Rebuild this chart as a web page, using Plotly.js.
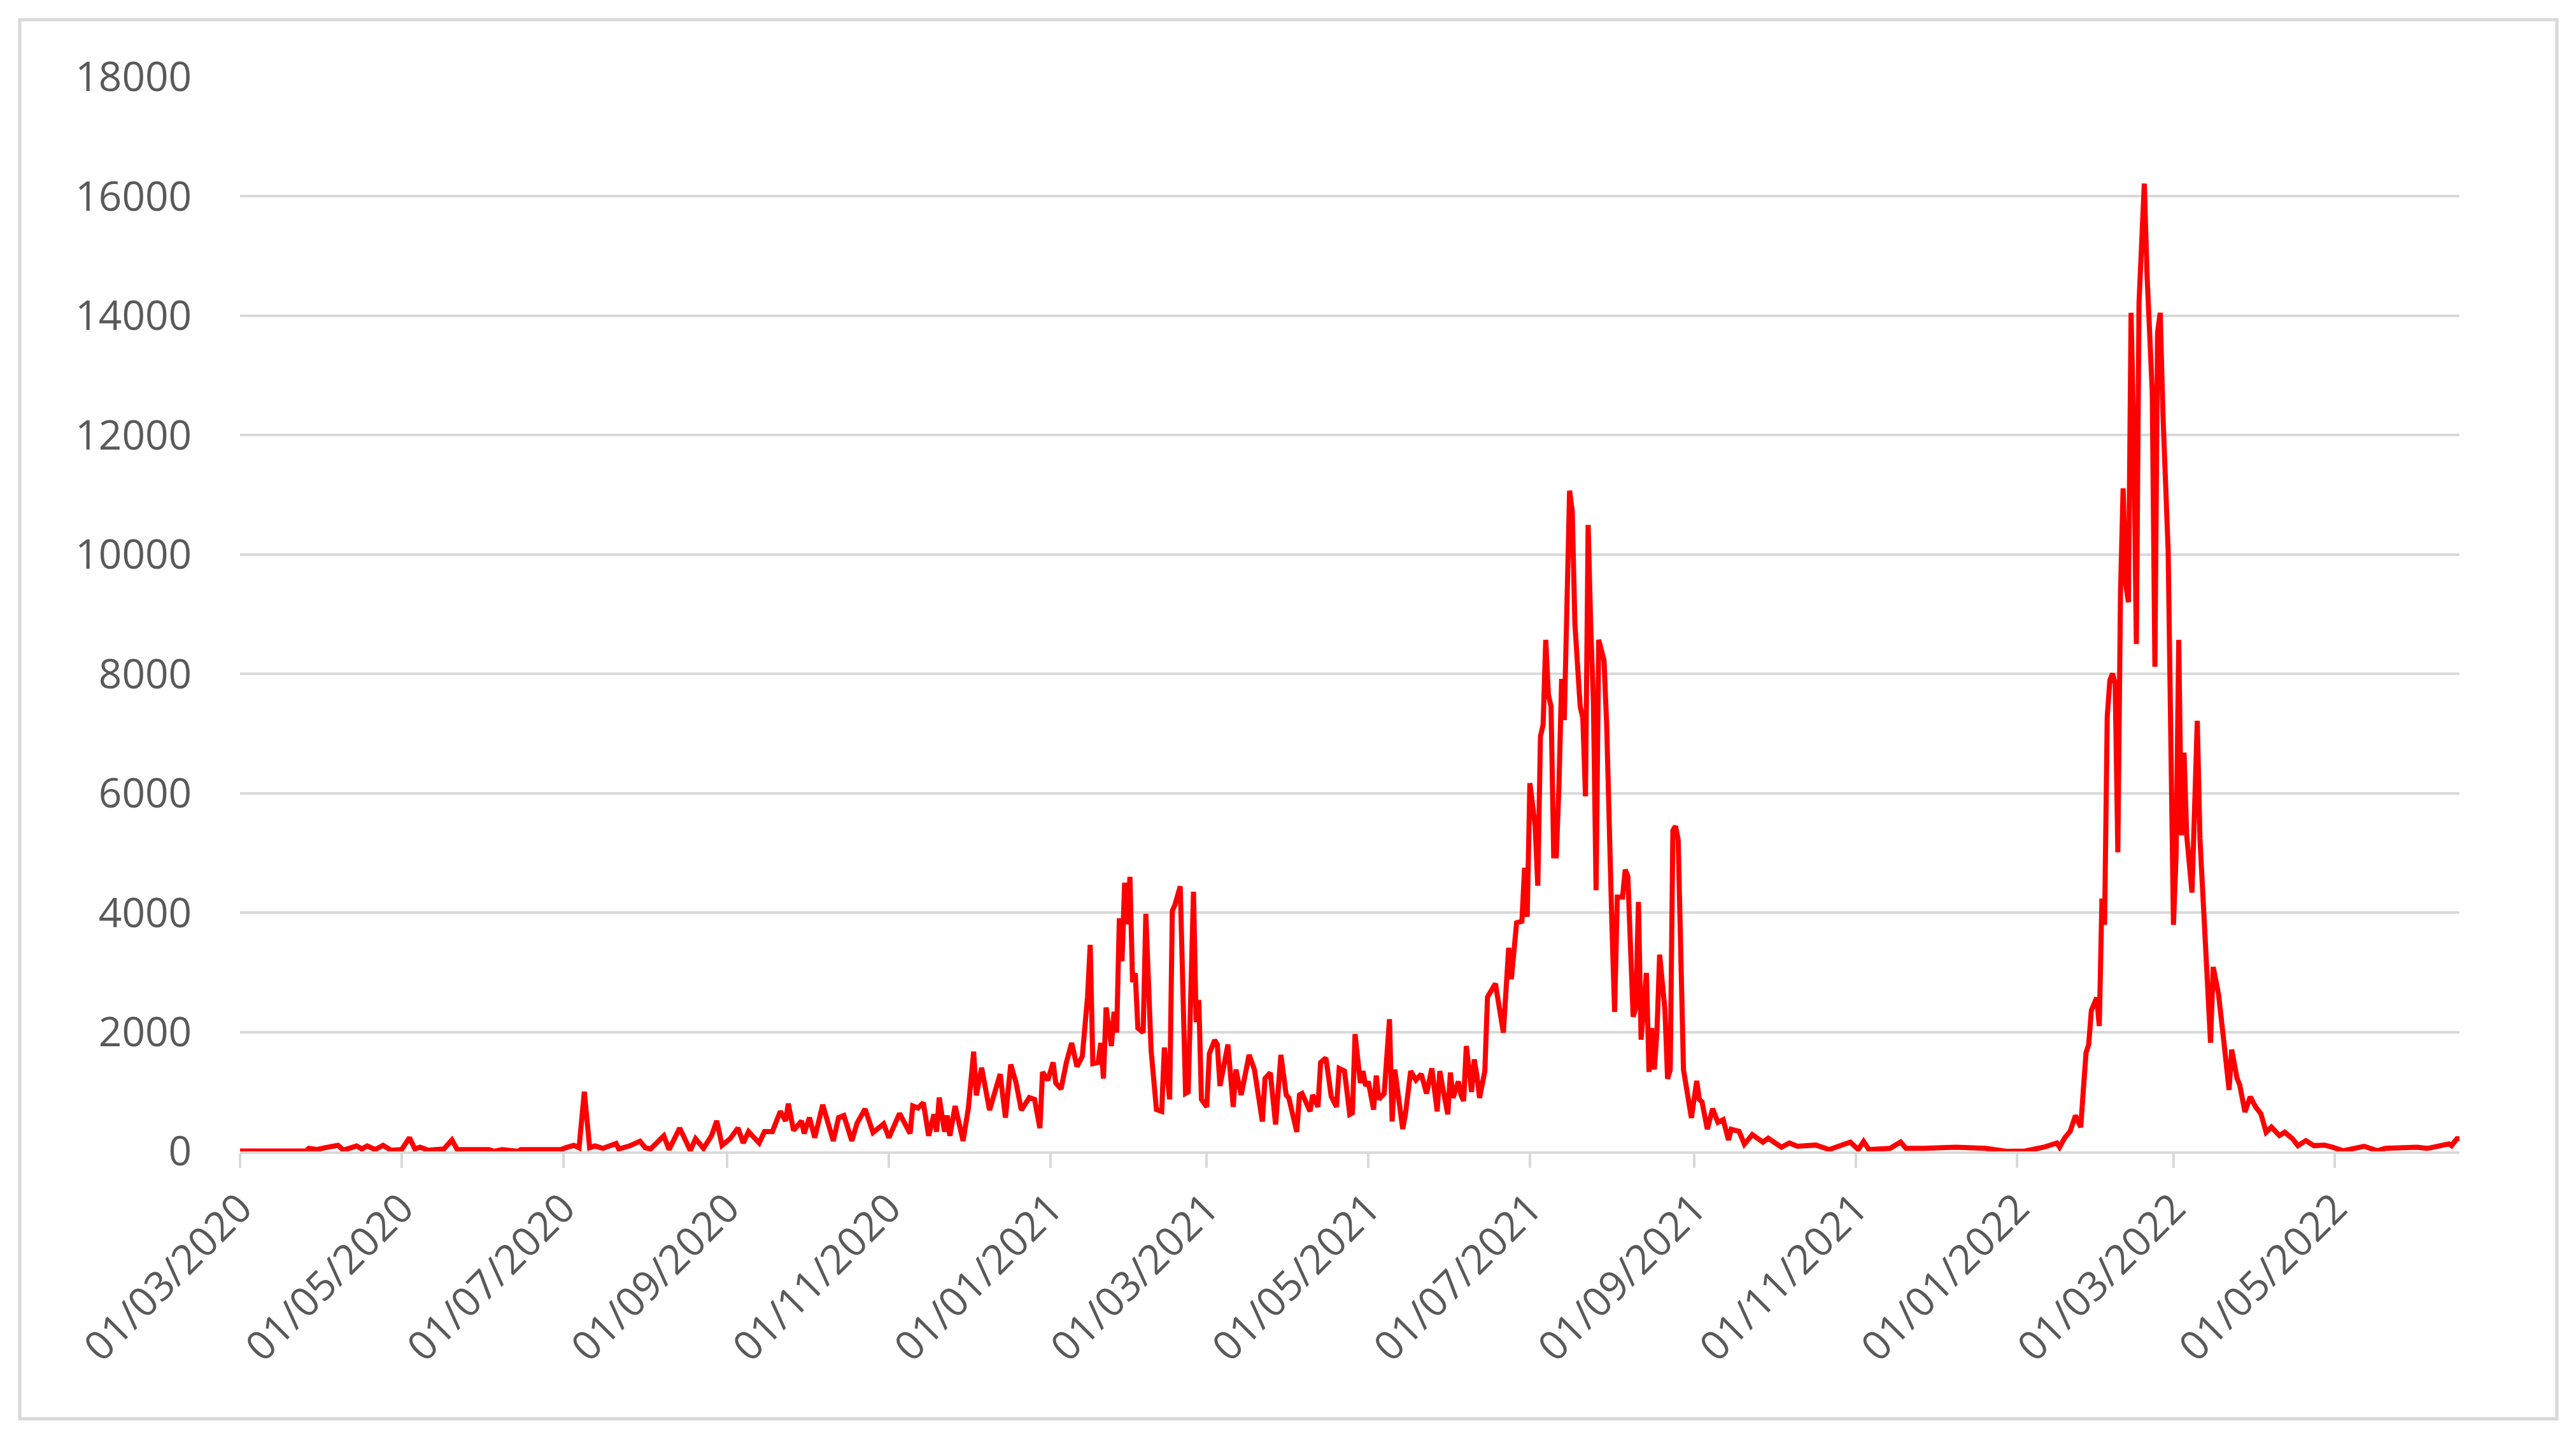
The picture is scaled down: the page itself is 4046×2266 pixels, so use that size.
<!DOCTYPE html>
<html>
<head>
<meta charset="utf-8">
<script src="https://cdn.plot.ly/plotly-3.0.1.min.js"></script>
<style>
  html, body { margin: 0; padding: 0; background: #ffffff; }
  #chart { width: 4046px; height: 2266px; }
</style>
</head>
<body>
<div id="chart"></div>
<script>
// Day offsets are counted from 01/03/2020; values are daily counts.
const startDate = '2020-03-01';

const spring2020Days  = [0,25,26,29,32,37,39,44,46,48,51,54,57,61,64,66,68,71,74,77,80,82,94,96,99,103,105,106,121,123,126,128,130,132,134,137,142,143,147,151,153,155];
const spring2020Cases = [5,8,50,30,60,100,20,90,40,90,30,100,20,30,230,40,70,20,30,40,190,30,30,0,30,20,0,30,30,60,100,60,1000,60,90,50,130,40,90,170,60,40];

const autumn2020Days  = [160,162,166,170,172,175,178,180,182,185,188,190,192,196,198,201,204,206,207,209,212,213,215,217,220,224,226,228,231,233,236,239,243,245,249,253,254,256,258,260,262,263,264,266,267,268,270,273,275,277,278,280,283,287,289,291,293,295,298,300,302,303,305];
const autumn2020Cases = [260,30,390,15,210,50,260,510,100,210,390,140,330,140,330,330,670,510,800,350,510,300,565,230,780,175,565,600,175,475,710,315,460,230,635,300,760,725,815,260,620,330,900,330,600,260,760,175,725,1670,940,1400,690,1295,565,1455,1150,690,900,870,390,1330,1190];

const winter2021Days  = [307,308,310,312,314,316,318,320,321,322,324,325,326,327,329,330,331,332,333,334,335,336,337,338,339,341,342,344,346,348,349,351,352,353,355,357,358,360,361,362,363,365,366,368,369,370,373,375,376,378,381,383,386,387,389];
const winter2021Cases = [1490,1145,1045,1490,1815,1420,1590,2590,3460,1470,1490,1815,1220,2410,1765,2340,1990,3905,3185,4500,3805,4600,2835,2985,2065,1990,3980,1690,700,670,1740,870,4030,4130,4440,970,995,4350,2165,2535,870,745,1640,1865,1790,1095,1790,745,1370,945,1615,1370,500,1220,1320];

const spring2021Days  = [391,393,395,396,399,400,401,404,405,407,408,410,412,414,415,417,418,419,420,421,423,424,425,426,428,429,430,432,434,435,436,439,440,442,444,446,448,450,452,453,454,456,457,458,460,461,462,463,465,466,467,468,470,471,474,476,477,479,480,482,484,485,486,487];
const spring2021Cases = [450,1615,945,895,325,945,970,670,945,745,1490,1565,920,745,1390,1345,995,620,645,1965,1145,1345,1095,1170,700,1270,870,970,2215,500,1370,375,620,1345,1195,1295,970,1390,670,1345,1095,620,1320,895,1170,945,845,1765,995,1540,1270,895,1345,2585,2810,2165,1990,3410,2885,3830,3855,4750,3930,6170];

const summer2021Days  = [489,490,491,492,493,494,495,496,497,498,499,500,501,502,503,504,506,507,508,509,510,511,512,513,515,516,518,519,520,522,523,524,526,527,528,529,531,532,533,534,535,536,538,539,540,541,542,543,545,547,548,550,551,552,554,556,558];
const summer2021Cases = [5450,4450,6955,7145,8570,7645,7455,4950,4950,6145,7915,7225,9530,11070,10725,8840,7455,7260,5950,10495,8760,7530,4375,8570,8225,7145,3760,2335,4260,4260,4720,4605,2255,2410,4180,1870,2990,1330,2065,1370,2025,3295,2370,1215,1370,5375,5450,5220,1370,870,560,1180,870,830,370,715,485];

const autumn2021Days  = [560,562,563,566,568,571,575,577,582,585,588,595,600,604,608,611,613,615,623,627,629,636,648,659,667,674,678,681,686,687,689,691,693,694,695,696,697,698,699,701,702];
const autumn2021Cases = [530,190,370,335,120,280,155,220,70,140,85,105,30,85,155,30,165,30,50,155,50,50,70,50,0,5,30,70,140,70,230,335,600,475,405,1045,1650,1790,2360,2575,2100];

const winter2022Days  = [703,704,705,706,707,708,709,710,711,712,713,714,715,716,717,718,719,720,722,723,724,725,726,728,730];
const winter2022Cases = [4235,3795,7285,7895,8005,7840,5010,9340,11110,9500,9200,14050,12000,8500,14220,15160,16215,14720,12720,8120,13720,14050,12390,10060,3795];

const spring2022Days  = [731,732,733,734,735,737,739,740,742,744,745,747,749,751,752,754,755,757,759,761,763,765,767,770,772,775,777,780,783,787,790,794,802,807,810,822,826,834,835,837,838];
const spring2022Cases = [4960,8570,5295,6680,5295,4335,7215,5240,3540,1820,3090,2640,1850,1030,1705,1225,1115,660,915,745,630,320,405,265,320,210,95,180,95,105,70,10,85,10,50,70,50,125,95,210,210];

const tickDates  = ['2020-03-01','2020-05-01','2020-07-01','2020-09-01','2020-11-01','2021-01-01','2021-03-01','2021-05-01','2021-07-01','2021-09-01','2021-11-01','2022-01-01','2022-03-01','2022-05-01'];
const tickLabels = ['01/03/2020','01/05/2020','01/07/2020','01/09/2020','01/11/2020','01/01/2021','01/03/2021','01/05/2021','01/07/2021','01/09/2021','01/11/2021','01/01/2022','01/03/2022','01/05/2022'];
const endDate = '2022-06-17';

// ---- build the series ----
const allDays = [].concat(spring2020Days, autumn2020Days, winter2021Days, spring2021Days,
                          summer2021Days, autumn2021Days, winter2022Days, spring2022Days);
const allCases = [].concat(spring2020Cases, autumn2020Cases, winter2021Cases, spring2021Cases,
                           summer2021Cases, autumn2021Cases, winter2022Cases, spring2022Cases);
const t0 = Date.parse(startDate + 'T00:00:00Z');
const xDates = allDays.map(d => new Date(t0 + d * 86400000).toISOString().slice(0, 10));

// ---- geometry ----
const W = 4046, H = 2266;
const M = { l: 377, r: 183, t: 121, b: 458 };
const plotW = W - M.l - M.r, plotH = H - M.t - M.b;
const px = x => (x - M.l) / plotW;
const py = y => (H - M.b - y) / plotH;

const tickFont = { family: 'Open Sans, Lato, sans-serif', size: 64, color: '#595959' };

const trace = {
  type: 'scatter',
  mode: 'lines',
  x: xDates,
  y: allCases,
  line: { color: '#FF0000', width: 8 },
  hoverinfo: 'x+y',
  showlegend: false
};

const layout = {
  width: W, height: H,
  margin: M,
  paper_bgcolor: '#ffffff',
  plot_bgcolor: '#ffffff',
  showlegend: false,
  xaxis: {
    type: 'date',
    range: [startDate, endDate],
    showgrid: false,
    zeroline: false,
    showline: true,
    linecolor: '#D9D9D9',
    linewidth: 4,
    ticks: 'outside',
    ticklen: 22,
    tickwidth: 4,
    tickcolor: '#D9D9D9',
    tickvals: tickDates,
    ticktext: tickLabels,
    tickangle: -45,
    tickfont: tickFont,
    layer: 'below traces'
  },
  yaxis: {
    range: [0, 18000],
    tickvals: [0,2000,4000,6000,8000,10000,12000,14000,16000,18000],
    ticktext: ['0','2000','4000','6000','8000','10000','12000','14000','16000','18000'],
    showgrid: true,
    gridcolor: '#D9D9D9',
    gridwidth: 4,
    zeroline: false,
    showline: false,
    ticks: 'outside',
    ticklen: 62,
    tickcolor: 'rgba(0,0,0,0)',
    tickfont: tickFont,
    layer: 'below traces'
  },
  shapes: [{
    type: 'rect', xref: 'paper', yref: 'paper', layer: 'below',
    x0: px(31), x1: px(4016), y0: py(2228), y1: py(31),
    line: { color: '#D9D9D9', width: 5 },
    fillcolor: 'rgba(0,0,0,0)'
  }]
};

Plotly.newPlot('chart', [trace], layout, { staticPlot: true, displayModeBar: false });
</script>
</body>
</html>
